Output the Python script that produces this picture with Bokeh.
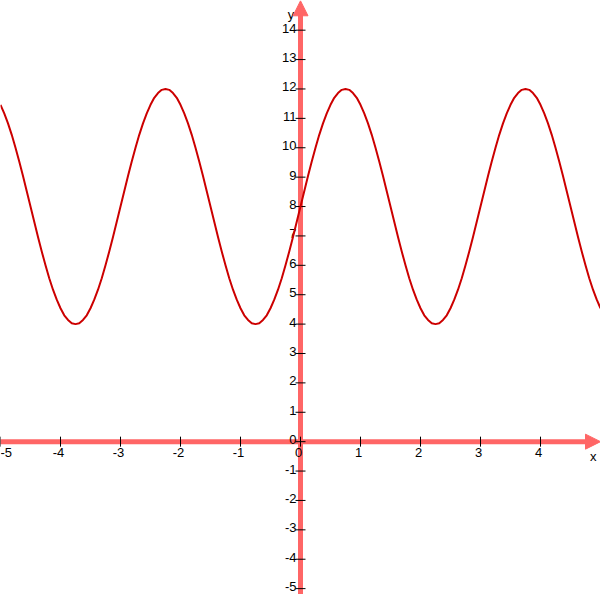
from bokeh.models import ColumnDataSource, Range1d, Arrow, NormalHead
from bokeh.plotting import figure
from bokeh.core.properties import value
from bokeh.embed import file_html
from bokeh.resources import INLINE

# curve, every 1/16 on x from -5 to 5
curve_y = [
    11.46, 11.17, 10.83, 10.44, 10.00, 9.53, 9.04, 8.52, 8.00, 7.48, 6.96, 6.47,
    6.00, 5.56, 5.17, 4.83, 4.54, 4.30, 4.14, 4.03, 4.00, 4.03, 4.14, 4.30,
    4.54, 4.83, 5.17, 5.56, 6.00, 6.47, 6.96, 7.48,
    8.00, 8.52, 9.04, 9.53, 10.00, 10.44, 10.83, 11.17, 11.46, 11.70, 11.86, 11.97,
    12.00, 11.97, 11.86, 11.70, 11.46, 11.17, 10.83, 10.44, 10.00, 9.53, 9.04, 8.52,
    8.00, 7.48, 6.96, 6.47, 6.00, 5.56, 5.17, 4.83, 4.54, 4.30, 4.14, 4.03,
    4.00, 4.03, 4.14, 4.30, 4.54, 4.83, 5.17, 5.56, 6.00, 6.47, 6.96, 7.48,
    8.00, 8.52, 9.04, 9.53, 10.00, 10.44, 10.83, 11.17, 11.46, 11.70, 11.86, 11.97,
    12.00, 11.97, 11.86, 11.70, 11.46, 11.17, 10.83, 10.44, 10.00, 9.53, 9.04, 8.52,
    8.00, 7.48, 6.96, 6.47, 6.00, 5.56, 5.17, 4.83, 4.54, 4.30, 4.14, 4.03,
    4.00, 4.03, 4.14, 4.30, 4.54, 4.83, 5.17, 5.56, 6.00, 6.47, 6.96, 7.48,
    8.00, 8.52, 9.04, 9.53, 10.00, 10.44, 10.83, 11.17, 11.46, 11.70, 11.86, 11.97,
    12.00, 11.97, 11.86, 11.70, 11.46, 11.17, 10.83, 10.44, 10.00, 9.53, 9.04, 8.52,
    8.00, 7.48, 6.96, 6.47, 6.00, 5.56, 5.17, 4.83, 4.54,
]
curve_x = [i / 16 - 5 for i in range(len(curve_y))]

x_ticks = [-5, -4, -3, -2, -1, 0, 1, 2, 3, 4]
y_ticks = [-5, -4, -3, -2, -1, 0, 1, 2, 3, 4, 5, 6, 7, 8, 9, 10, 11, 12, 13, 14]
x_labels = [str(t) for t in x_ticks]
y_labels = [str(t) for t in y_ticks]

axis_col = "#ff6666"
curve_col = "#cc0000"
font = value("Liberation Sans")

W, H = 600, 594
y_lo, y_hi = -5.2, 15.01
px_y = H / (y_hi - y_lo)  # pixels per unit on y
px_x = W / 10.0

p = figure(width=W, height=H, output_backend="svg", toolbar_location=None,
           x_range=Range1d(-5, 5), y_range=Range1d(y_lo, y_hi),
           x_axis_type=None, y_axis_type=None, min_border=0)
p.grid.visible = False
p.outline_line_color = None
p.background_fill_color = "white"

# axes with arrow heads
head = 14
p.segment(x0=[-5.2], y0=[0], x1=[5.0 - head / px_x], y1=[0], line_color=axis_col, line_width=5)
p.segment(x0=[0], y0=[-5.4], x1=[0], y1=[15.0 - head / px_y], line_color=axis_col, line_width=5)
for x0, y0, x1, y1 in [(4.7, 0, 5.0, 0), (0, 14.5, 0, 15.0)]:
    p.add_layout(Arrow(x_start=x0, y_start=y0, x_end=x1, y_end=y1, line_alpha=0,
                       end=NormalHead(size=15, fill_color=axis_col, line_color=axis_col)))

# tick marks
p.segment(x0=x_ticks, y0=[-5 / px_y] * len(x_ticks), x1=x_ticks, y1=[5 / px_y] * len(x_ticks),
          line_color="black", line_width=1)
p.segment(x0=[-5 / px_x] * len(y_ticks), y0=y_ticks, x1=[5 / px_x] * len(y_ticks), y1=y_ticks,
          line_color="black", line_width=1)

# tick labels (the -5 one sits at the left edge, so it is left aligned)
p.text(x=x_ticks[1:], y=[0] * (len(x_ticks) - 1), text=x_labels[1:], text_font=font,
       text_font_size="13px", text_color="black", text_align="center", text_baseline="top",
       y_offset=6, x_offset=-2)
p.text(x=x_ticks[:1], y=[0], text=x_labels[:1], text_font=font, text_font_size="13px",
       text_color="black", text_align="left", text_baseline="top", y_offset=6, x_offset=0)
p.text(x=[0] * len(y_ticks), y=y_ticks, text=y_labels, text_font=font, text_font_size="13px",
       text_color="black", text_align="right", text_baseline="alphabetic", x_offset=-4, y_offset=-2)
p.text(x=[4.88], y=[0], text=["x"], text_font=font, text_font_size="13px", text_color="black",
       text_align="center", text_baseline="top", y_offset=7)
p.text(x=[-0.16], y=[14.55], text=["y"], text_font=font, text_font_size="13px", text_color="black",
       text_align="center", text_baseline="alphabetic")

# the curve
src = ColumnDataSource(data={"x": curve_x, "y": curve_y})
p.line("x", "y", source=src, line_color=curve_col, line_width=2, line_join="round")

open("out.html", "w").write(file_html(p, INLINE))
